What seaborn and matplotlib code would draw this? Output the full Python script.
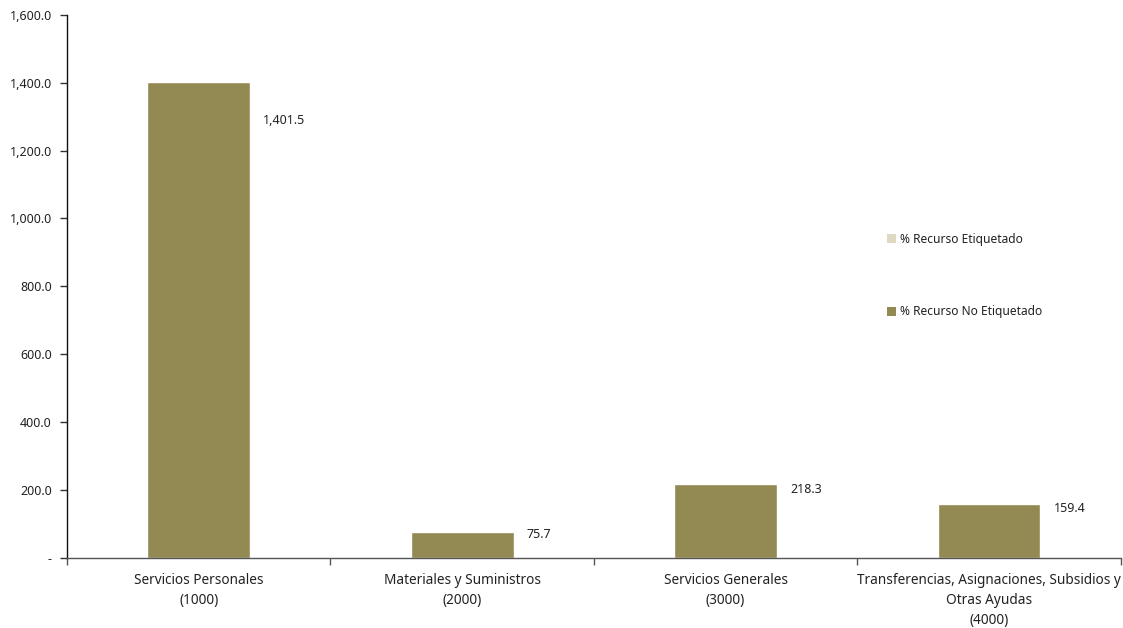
import numpy as np
import pandas as pd
import matplotlib
matplotlib.use("Agg")
import matplotlib.pyplot as plt
import seaborn as sns
from matplotlib.ticker import FuncFormatter, FixedLocator
from matplotlib.patches import Patch

categorias = ["Servicios Personales\n(1000)",
              "Materiales y Suministros\n(2000)",
              "Servicios Generales\n(3000)",
              "Transferencias, Asignaciones, Subsidios y\nOtras Ayudas\n(4000)"]
no_etiquetado = [1401.5, 75.7, 218.3, 159.4]
etiquetado = [0.0, 0.0, 0.0, 0.0]
series = ["% Recurso Etiquetado", "% Recurso No Etiquetado"]

color_etiq = "#DDD9C3"
color_no_etiq = "#938953"

sns.set_theme(style="white")
plt.rcParams["font.family"] = ["Noto Sans", "DejaVu Sans"]

df = pd.DataFrame({"categoria": categorias,
                   "no_etiq": no_etiquetado,
                   "etiq": etiquetado})
df["total"] = df["no_etiq"] + df["etiq"]

fig = plt.figure(figsize=(11.23, 6.28), dpi=100)
ax = fig.add_axes([0.0597, 0.1115, 0.9383, 0.865])

# apilado: no etiquetado abajo, etiquetado encima
sns.barplot(data=df, x="categoria", y="total", color=color_etiq, width=0.39,
            saturation=1, ax=ax)
sns.barplot(data=df, x="categoria", y="no_etiq", color=color_no_etiq, width=0.39,
            saturation=1, ax=ax)

for i, v in enumerate(no_etiquetado):
    ax.text(i + 0.245, v * 0.92, f"{v:,.1f}", ha="left", va="center",
            fontsize=9, color="#222222")

ax.set_xlim(-0.5, 3.5)
ax.set_ylim(0, 1600)
ax.set_yticks(np.arange(0, 1601, 200))
ax.yaxis.set_major_formatter(FuncFormatter(lambda v, p: "-" if v == 0 else f"{v:,.1f}"))
ax.set_xlabel("")
ax.set_ylabel("")

ax.tick_params(axis="x", which="major", length=0, pad=11, labelsize=9.8, labelcolor="#222222")
for lbl in ax.get_xticklabels():
    lbl.set_linespacing(1.45)
ax.xaxis.set_minor_locator(FixedLocator([-0.5, 0.5, 1.5, 2.5, 3.5]))
ax.tick_params(axis="x", which="minor", bottom=True, direction="out", length=5,
               width=1, color="#555555")
ax.tick_params(axis="y", which="major", left=True, direction="out", length=5,
               width=1, color="#333333", labelsize=9, labelcolor="#222222", pad=6)

for s in ["top", "right"]:
    ax.spines[s].set_visible(False)
ax.spines["left"].set_color("#111111")
ax.spines["left"].set_linewidth(1)
ax.spines["bottom"].set_color("#555555")
ax.spines["bottom"].set_linewidth(1)

handles = [Patch(facecolor=color_etiq, edgecolor="none"),
           Patch(facecolor=color_no_etiq, edgecolor="none")]
ax.legend(handles, series, loc="center left", bbox_to_anchor=(0.768, 0.52),
          frameon=False, fontsize=8.6, handlelength=0.75, handleheight=0.75,
          handletextpad=0.35, labelspacing=5.0, labelcolor="#222222")

fig.savefig("out.png", dpi=100)
